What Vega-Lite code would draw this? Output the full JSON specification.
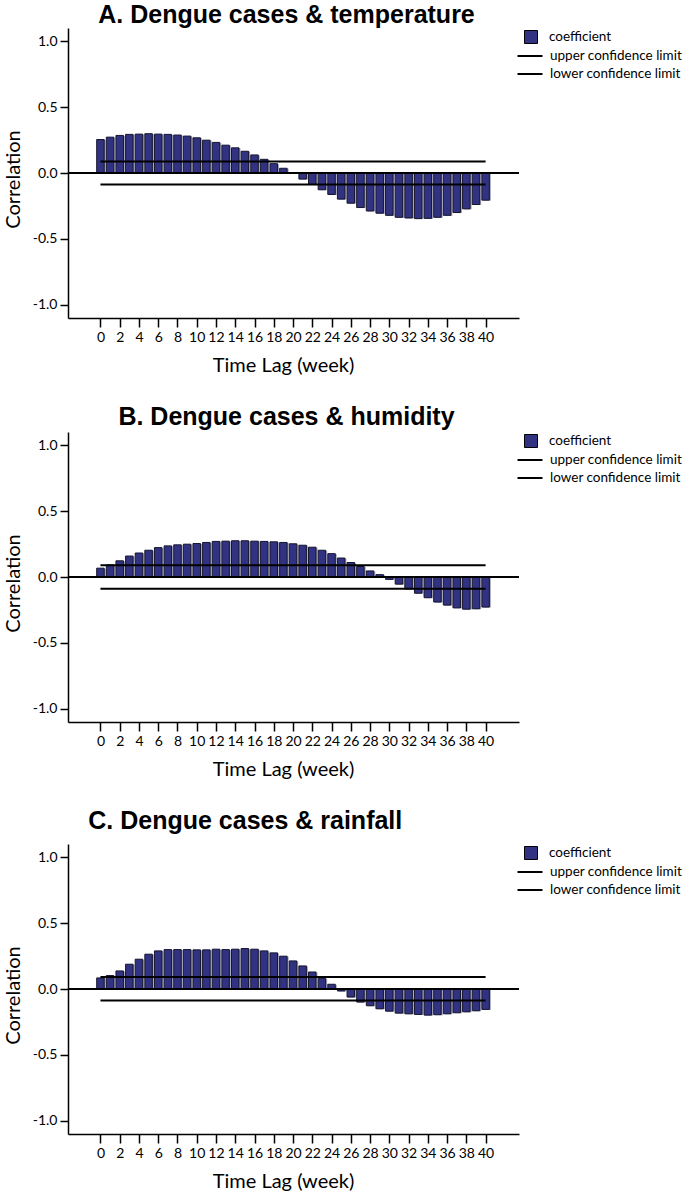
{
  "$schema": "https://vega.github.io/schema/vega-lite/v6.json",
  "padding": {"left": 3, "top": 3, "right": 0, "bottom": 0},
  "background": "white",
  "spacing": 30,
  "datasets": {
    "acf": [
      {"panel": "A", "lag": 0, "r": 0.254}, {"panel": "A", "lag": 1, "r": 0.272}, {"panel": "A", "lag": 2, "r": 0.285}, {"panel": "A", "lag": 3, "r": 0.293}, {"panel": "A", "lag": 4, "r": 0.295}, {"panel": "A", "lag": 5, "r": 0.298}, {"panel": "A", "lag": 6, "r": 0.295}, {"panel": "A", "lag": 7, "r": 0.293}, {"panel": "A", "lag": 8, "r": 0.288}, {"panel": "A", "lag": 9, "r": 0.28}, {"panel": "A", "lag": 10, "r": 0.267}, {"panel": "A", "lag": 11, "r": 0.249}, {"panel": "A", "lag": 12, "r": 0.232}, {"panel": "A", "lag": 13, "r": 0.211}, {"panel": "A", "lag": 14, "r": 0.191}, {"panel": "A", "lag": 15, "r": 0.165}, {"panel": "A", "lag": 16, "r": 0.137}, {"panel": "A", "lag": 17, "r": 0.104}, {"panel": "A", "lag": 18, "r": 0.071}, {"panel": "A", "lag": 19, "r": 0.036}, {"panel": "A", "lag": 20, "r": 0.003}, {"panel": "A", "lag": 21, "r": -0.046}, {"panel": "A", "lag": 22, "r": -0.087}, {"panel": "A", "lag": 23, "r": -0.127}, {"panel": "A", "lag": 24, "r": -0.163}, {"panel": "A", "lag": 25, "r": -0.198}, {"panel": "A", "lag": 26, "r": -0.229}, {"panel": "A", "lag": 27, "r": -0.262}, {"panel": "A", "lag": 28, "r": -0.288}, {"panel": "A", "lag": 29, "r": -0.305}, {"panel": "A", "lag": 30, "r": -0.321}, {"panel": "A", "lag": 31, "r": -0.336}, {"panel": "A", "lag": 32, "r": -0.341}, {"panel": "A", "lag": 33, "r": -0.346}, {"panel": "A", "lag": 34, "r": -0.344}, {"panel": "A", "lag": 35, "r": -0.336}, {"panel": "A", "lag": 36, "r": -0.321}, {"panel": "A", "lag": 37, "r": -0.3}, {"panel": "A", "lag": 38, "r": -0.272}, {"panel": "A", "lag": 39, "r": -0.239}, {"panel": "A", "lag": 40, "r": -0.206},
      {"panel": "B", "lag": 0, "r": 0.067}, {"panel": "B", "lag": 1, "r": 0.092}, {"panel": "B", "lag": 2, "r": 0.123}, {"panel": "B", "lag": 3, "r": 0.159}, {"panel": "B", "lag": 4, "r": 0.182}, {"panel": "B", "lag": 5, "r": 0.203}, {"panel": "B", "lag": 6, "r": 0.223}, {"panel": "B", "lag": 7, "r": 0.236}, {"panel": "B", "lag": 8, "r": 0.244}, {"panel": "B", "lag": 9, "r": 0.249}, {"panel": "B", "lag": 10, "r": 0.254}, {"panel": "B", "lag": 11, "r": 0.262}, {"panel": "B", "lag": 12, "r": 0.27}, {"panel": "B", "lag": 13, "r": 0.272}, {"panel": "B", "lag": 14, "r": 0.275}, {"panel": "B", "lag": 15, "r": 0.275}, {"panel": "B", "lag": 16, "r": 0.272}, {"panel": "B", "lag": 17, "r": 0.27}, {"panel": "B", "lag": 18, "r": 0.267}, {"panel": "B", "lag": 19, "r": 0.262}, {"panel": "B", "lag": 20, "r": 0.252}, {"panel": "B", "lag": 21, "r": 0.241}, {"panel": "B", "lag": 22, "r": 0.226}, {"panel": "B", "lag": 23, "r": 0.203}, {"panel": "B", "lag": 24, "r": 0.177}, {"panel": "B", "lag": 25, "r": 0.144}, {"panel": "B", "lag": 26, "r": 0.11}, {"panel": "B", "lag": 27, "r": 0.08}, {"panel": "B", "lag": 28, "r": 0.046}, {"panel": "B", "lag": 29, "r": 0.018}, {"panel": "B", "lag": 30, "r": -0.018}, {"panel": "B", "lag": 31, "r": -0.054}, {"panel": "B", "lag": 32, "r": -0.09}, {"panel": "B", "lag": 33, "r": -0.123}, {"panel": "B", "lag": 34, "r": -0.157}, {"panel": "B", "lag": 35, "r": -0.19}, {"panel": "B", "lag": 36, "r": -0.213}, {"panel": "B", "lag": 37, "r": -0.234}, {"panel": "B", "lag": 38, "r": -0.244}, {"panel": "B", "lag": 39, "r": -0.241}, {"panel": "B", "lag": 40, "r": -0.228},
      {"panel": "C", "lag": 0, "r": 0.084}, {"panel": "C", "lag": 1, "r": 0.102}, {"panel": "C", "lag": 2, "r": 0.137}, {"panel": "C", "lag": 3, "r": 0.188}, {"panel": "C", "lag": 4, "r": 0.226}, {"panel": "C", "lag": 5, "r": 0.264}, {"panel": "C", "lag": 6, "r": 0.289}, {"panel": "C", "lag": 7, "r": 0.299}, {"panel": "C", "lag": 8, "r": 0.299}, {"panel": "C", "lag": 9, "r": 0.299}, {"panel": "C", "lag": 10, "r": 0.297}, {"panel": "C", "lag": 11, "r": 0.297}, {"panel": "C", "lag": 12, "r": 0.302}, {"panel": "C", "lag": 13, "r": 0.299}, {"panel": "C", "lag": 14, "r": 0.302}, {"panel": "C", "lag": 15, "r": 0.307}, {"panel": "C", "lag": 16, "r": 0.302}, {"panel": "C", "lag": 17, "r": 0.289}, {"panel": "C", "lag": 18, "r": 0.274}, {"panel": "C", "lag": 19, "r": 0.249}, {"panel": "C", "lag": 20, "r": 0.213}, {"panel": "C", "lag": 21, "r": 0.175}, {"panel": "C", "lag": 22, "r": 0.129}, {"panel": "C", "lag": 23, "r": 0.081}, {"panel": "C", "lag": 24, "r": 0.036}, {"panel": "C", "lag": 25, "r": -0.015}, {"panel": "C", "lag": 26, "r": -0.061}, {"panel": "C", "lag": 27, "r": -0.099}, {"panel": "C", "lag": 28, "r": -0.127}, {"panel": "C", "lag": 29, "r": -0.15}, {"panel": "C", "lag": 30, "r": -0.168}, {"panel": "C", "lag": 31, "r": -0.183}, {"panel": "C", "lag": 32, "r": -0.188}, {"panel": "C", "lag": 33, "r": -0.193}, {"panel": "C", "lag": 34, "r": -0.198}, {"panel": "C", "lag": 35, "r": -0.195}, {"panel": "C", "lag": 36, "r": -0.188}, {"panel": "C", "lag": 37, "r": -0.18}, {"panel": "C", "lag": 38, "r": -0.173}, {"panel": "C", "lag": 39, "r": -0.165}, {"panel": "C", "lag": 40, "r": -0.155}
    ],
    "limits": [
      {"panel": "A", "series": "upper confidence limit", "value": 0.088},
      {"panel": "A", "series": "lower confidence limit", "value": -0.087},
      {"panel": "B", "series": "upper confidence limit", "value": 0.09},
      {"panel": "B", "series": "lower confidence limit", "value": -0.089},
      {"panel": "C", "series": "upper confidence limit", "value": 0.091},
      {"panel": "C", "series": "lower confidence limit", "value": -0.088}
    ]
  },
  "config": {
    "font": "Lato",
    "view": {"stroke": null},
    "axis": {
      "grid": false, "domainColor": "black", "domainWidth": 1.5, "tickColor": "black", "tickWidth": 1.5,
      "labelColor": "black", "labelFont": "Lato", "labelFontSize": 14,
      "titleFont": "Lato", "titleFontSize": 20, "titleFontWeight": "normal", "titleColor": "black"
    },
    "title": {"font": "Liberation Sans", "fontSize": 25, "fontWeight": "bold", "color": "black", "baseline": "alphabetic"},
    "legend": {"labelFont": "Lato", "labelFontSize": 13.5, "labelColor": "black", "padding": 0, "rowPadding": 3, "offset": 3, "orient": "right", "layout": {"margin": 0}}
  },
  "resolve": {"scale": {"fill": "independent", "stroke": "independent"}},
  "vconcat": [
    {
      "width": 451, "height": 290,
      "title": {"text": "A. Dengue cases & temperature", "anchor": "middle", "dx": -7, "offset": 0},
      "layer": [
        {
          "data": {"name": "acf"}, "transform": [{"filter": "datum.panel == 'A'"}],
          "mark": {"type": "bar", "orient": "vertical", "size": 7.5, "color": "#a3a3b3", "xOffset": 1.5, "yOffset": 0.5},
          "encoding": {
            "x": {"field": "lag", "type": "quantitative", "scale": {"domain": [-2.85, 42.95], "nice": false, "zero": false},
                  "axis": {"values": [0,2,4,6,8,10,12,14,16,18,20,22,24,26,28,30,32,34,36,38,40], "tickSize": 9, "labelPadding": 3, "labelFlush": false, "labelOverlap": false, "title": "Time Lag (week)", "titlePadding": 11, "titleX": 215}},
            "y": {"field": "r", "type": "quantitative", "stack": null, "scale": {"domain": [-1.1, 1.1], "nice": false},
                  "axis": {"values": [-1, -0.5, 0, 0.5, 1], "labelExpr": "(datum.value < 0 ? '-' : '') + format(abs(datum.value), '.1f')", "tickSize": 8, "labelPadding": 3, "title": "Correlation", "titlePadding": 9, "titleY": 151}}
          }
        },
        {
          "data": {"name": "acf"}, "transform": [{"filter": "datum.panel == 'A'"}],
          "mark": {"type": "bar", "orient": "vertical", "size": 7.5, "stroke": "#15152e", "strokeWidth": 1},
          "encoding": {
            "x": {"field": "lag", "type": "quantitative",
                  "axis": {"values": [0,2,4,6,8,10,12,14,16,18,20,22,24,26,28,30,32,34,36,38,40], "tickSize": 9, "labelPadding": 3, "labelFlush": false, "labelOverlap": false, "title": "Time Lag (week)", "titlePadding": 11, "titleX": 215}},
            "y": {"field": "r", "type": "quantitative", "stack": null,
                  "axis": {"values": [-1, -0.5, 0, 0.5, 1], "labelExpr": "(datum.value < 0 ? '-' : '') + format(abs(datum.value), '.1f')", "tickSize": 8, "labelPadding": 3, "title": "Correlation", "titlePadding": 9, "titleY": 151}},
            "fill": {"datum": "coefficient", "type": "nominal", "scale": {"range": ["#323282"]},
                     "legend": {"title": null, "symbolType": "square", "symbolSize": 169, "symbolStrokeColor": "black", "symbolStrokeWidth": 1, "labelOffset": 11, "padding": 2}}
          }
        },
        {"data": {"name": "acf"}, "mark": {"type": "rule", "color": "black", "strokeWidth": 2},
         "encoding": {"y": {"datum": 0, "type": "quantitative",
                  "axis": {"values": [-1, -0.5, 0, 0.5, 1], "labelExpr": "(datum.value < 0 ? '-' : '') + format(abs(datum.value), '.1f')", "tickSize": 8, "labelPadding": 3, "title": "Correlation", "titlePadding": 9, "titleY": 151}}}},
        {
          "data": {"name": "limits"}, "transform": [{"filter": "datum.panel == 'A'"}],
          "mark": {"type": "rule", "strokeWidth": 2},
          "encoding": {
            "x": {"datum": 0, "type": "quantitative",
                  "axis": {"values": [0,2,4,6,8,10,12,14,16,18,20,22,24,26,28,30,32,34,36,38,40], "tickSize": 9, "labelPadding": 3, "labelFlush": false, "labelOverlap": false, "title": "Time Lag (week)", "titlePadding": 11, "titleX": 215}},
            "x2": {"datum": 40},
            "y": {"field": "value", "type": "quantitative",
                  "axis": {"values": [-1, -0.5, 0, 0.5, 1], "labelExpr": "(datum.value < 0 ? '-' : '') + format(abs(datum.value), '.1f')", "tickSize": 8, "labelPadding": 3, "title": "Correlation", "titlePadding": 9, "titleY": 151}},
            "stroke": {"field": "series", "type": "nominal", "scale": {"domain": ["upper confidence limit", "lower confidence limit"], "range": ["black", "black"]},
                       "legend": {"title": null, "symbolType": "M-1.786,0H1.786", "symbolSize": 196, "symbolStrokeWidth": 2, "labelOffset": 12}}
          }
        }
      ]
    },
    {
      "width": 451, "height": 290,
      "title": {"text": "B. Dengue cases & humidity", "anchor": "middle", "dx": -7, "offset": 2},
      "layer": [
        {
          "data": {"name": "acf"}, "transform": [{"filter": "datum.panel == 'B'"}],
          "mark": {"type": "bar", "orient": "vertical", "size": 7.5, "color": "#a3a3b3", "xOffset": 1.5, "yOffset": 0.5},
          "encoding": {
            "x": {"field": "lag", "type": "quantitative", "scale": {"domain": [-2.85, 42.95], "nice": false, "zero": false},
                  "axis": {"values": [0,2,4,6,8,10,12,14,16,18,20,22,24,26,28,30,32,34,36,38,40], "tickSize": 9, "labelPadding": 3, "labelFlush": false, "labelOverlap": false, "title": "Time Lag (week)", "titlePadding": 11, "titleX": 215}},
            "y": {"field": "r", "type": "quantitative", "stack": null, "scale": {"domain": [-1.1, 1.1], "nice": false},
                  "axis": {"values": [-1, -0.5, 0, 0.5, 1], "labelExpr": "(datum.value < 0 ? '-' : '') + format(abs(datum.value), '.1f')", "tickSize": 8, "labelPadding": 3, "title": "Correlation", "titlePadding": 9, "titleY": 151}}
          }
        },
        {
          "data": {"name": "acf"}, "transform": [{"filter": "datum.panel == 'B'"}],
          "mark": {"type": "bar", "orient": "vertical", "size": 7.5, "stroke": "#15152e", "strokeWidth": 1},
          "encoding": {
            "x": {"field": "lag", "type": "quantitative",
                  "axis": {"values": [0,2,4,6,8,10,12,14,16,18,20,22,24,26,28,30,32,34,36,38,40], "tickSize": 9, "labelPadding": 3, "labelFlush": false, "labelOverlap": false, "title": "Time Lag (week)", "titlePadding": 11, "titleX": 215}},
            "y": {"field": "r", "type": "quantitative", "stack": null,
                  "axis": {"values": [-1, -0.5, 0, 0.5, 1], "labelExpr": "(datum.value < 0 ? '-' : '') + format(abs(datum.value), '.1f')", "tickSize": 8, "labelPadding": 3, "title": "Correlation", "titlePadding": 9, "titleY": 151}},
            "fill": {"datum": "coefficient", "type": "nominal", "scale": {"range": ["#323282"]},
                     "legend": {"title": null, "symbolType": "square", "symbolSize": 169, "symbolStrokeColor": "black", "symbolStrokeWidth": 1, "labelOffset": 11, "padding": 2}}
          }
        },
        {"data": {"name": "acf"}, "mark": {"type": "rule", "color": "black", "strokeWidth": 2},
         "encoding": {"y": {"datum": 0, "type": "quantitative",
                  "axis": {"values": [-1, -0.5, 0, 0.5, 1], "labelExpr": "(datum.value < 0 ? '-' : '') + format(abs(datum.value), '.1f')", "tickSize": 8, "labelPadding": 3, "title": "Correlation", "titlePadding": 9, "titleY": 151}}}},
        {
          "data": {"name": "limits"}, "transform": [{"filter": "datum.panel == 'B'"}],
          "mark": {"type": "rule", "strokeWidth": 2},
          "encoding": {
            "x": {"datum": 0, "type": "quantitative",
                  "axis": {"values": [0,2,4,6,8,10,12,14,16,18,20,22,24,26,28,30,32,34,36,38,40], "tickSize": 9, "labelPadding": 3, "labelFlush": false, "labelOverlap": false, "title": "Time Lag (week)", "titlePadding": 11, "titleX": 215}},
            "x2": {"datum": 40},
            "y": {"field": "value", "type": "quantitative",
                  "axis": {"values": [-1, -0.5, 0, 0.5, 1], "labelExpr": "(datum.value < 0 ? '-' : '') + format(abs(datum.value), '.1f')", "tickSize": 8, "labelPadding": 3, "title": "Correlation", "titlePadding": 9, "titleY": 151}},
            "stroke": {"field": "series", "type": "nominal", "scale": {"domain": ["upper confidence limit", "lower confidence limit"], "range": ["black", "black"]},
                       "legend": {"title": null, "symbolType": "M-1.786,0H1.786", "symbolSize": 196, "symbolStrokeWidth": 2, "labelOffset": 12}}
          }
        }
      ]
    },
    {
      "width": 451, "height": 290,
      "title": {"text": "C. Dengue cases & rainfall", "anchor": "start", "dx": 85, "offset": 10},
      "layer": [
        {
          "data": {"name": "acf"}, "transform": [{"filter": "datum.panel == 'C'"}],
          "mark": {"type": "bar", "orient": "vertical", "size": 7.5, "color": "#a3a3b3", "xOffset": 1.5, "yOffset": 0.5},
          "encoding": {
            "x": {"field": "lag", "type": "quantitative", "scale": {"domain": [-2.85, 42.95], "nice": false, "zero": false},
                  "axis": {"values": [0,2,4,6,8,10,12,14,16,18,20,22,24,26,28,30,32,34,36,38,40], "tickSize": 9, "labelPadding": 3, "labelFlush": false, "labelOverlap": false, "title": "Time Lag (week)", "titlePadding": 11, "titleX": 215}},
            "y": {"field": "r", "type": "quantitative", "stack": null, "scale": {"domain": [-1.1, 1.1], "nice": false},
                  "axis": {"values": [-1, -0.5, 0, 0.5, 1], "labelExpr": "(datum.value < 0 ? '-' : '') + format(abs(datum.value), '.1f')", "tickSize": 8, "labelPadding": 3, "title": "Correlation", "titlePadding": 9, "titleY": 151}}
          }
        },
        {
          "data": {"name": "acf"}, "transform": [{"filter": "datum.panel == 'C'"}],
          "mark": {"type": "bar", "orient": "vertical", "size": 7.5, "stroke": "#15152e", "strokeWidth": 1},
          "encoding": {
            "x": {"field": "lag", "type": "quantitative",
                  "axis": {"values": [0,2,4,6,8,10,12,14,16,18,20,22,24,26,28,30,32,34,36,38,40], "tickSize": 9, "labelPadding": 3, "labelFlush": false, "labelOverlap": false, "title": "Time Lag (week)", "titlePadding": 11, "titleX": 215}},
            "y": {"field": "r", "type": "quantitative", "stack": null,
                  "axis": {"values": [-1, -0.5, 0, 0.5, 1], "labelExpr": "(datum.value < 0 ? '-' : '') + format(abs(datum.value), '.1f')", "tickSize": 8, "labelPadding": 3, "title": "Correlation", "titlePadding": 9, "titleY": 151}},
            "fill": {"datum": "coefficient", "type": "nominal", "scale": {"range": ["#323282"]},
                     "legend": {"title": null, "symbolType": "square", "symbolSize": 169, "symbolStrokeColor": "black", "symbolStrokeWidth": 1, "labelOffset": 11, "padding": 2}}
          }
        },
        {"data": {"name": "acf"}, "mark": {"type": "rule", "color": "black", "strokeWidth": 2},
         "encoding": {"y": {"datum": 0, "type": "quantitative",
                  "axis": {"values": [-1, -0.5, 0, 0.5, 1], "labelExpr": "(datum.value < 0 ? '-' : '') + format(abs(datum.value), '.1f')", "tickSize": 8, "labelPadding": 3, "title": "Correlation", "titlePadding": 9, "titleY": 151}}}},
        {
          "data": {"name": "limits"}, "transform": [{"filter": "datum.panel == 'C'"}],
          "mark": {"type": "rule", "strokeWidth": 2},
          "encoding": {
            "x": {"datum": 0, "type": "quantitative",
                  "axis": {"values": [0,2,4,6,8,10,12,14,16,18,20,22,24,26,28,30,32,34,36,38,40], "tickSize": 9, "labelPadding": 3, "labelFlush": false, "labelOverlap": false, "title": "Time Lag (week)", "titlePadding": 11, "titleX": 215}},
            "x2": {"datum": 40},
            "y": {"field": "value", "type": "quantitative",
                  "axis": {"values": [-1, -0.5, 0, 0.5, 1], "labelExpr": "(datum.value < 0 ? '-' : '') + format(abs(datum.value), '.1f')", "tickSize": 8, "labelPadding": 3, "title": "Correlation", "titlePadding": 9, "titleY": 151}},
            "stroke": {"field": "series", "type": "nominal", "scale": {"domain": ["upper confidence limit", "lower confidence limit"], "range": ["black", "black"]},
                       "legend": {"title": null, "symbolType": "M-1.786,0H1.786", "symbolSize": 196, "symbolStrokeWidth": 2, "labelOffset": 12}}
          }
        }
      ]
    }
  ]
}
